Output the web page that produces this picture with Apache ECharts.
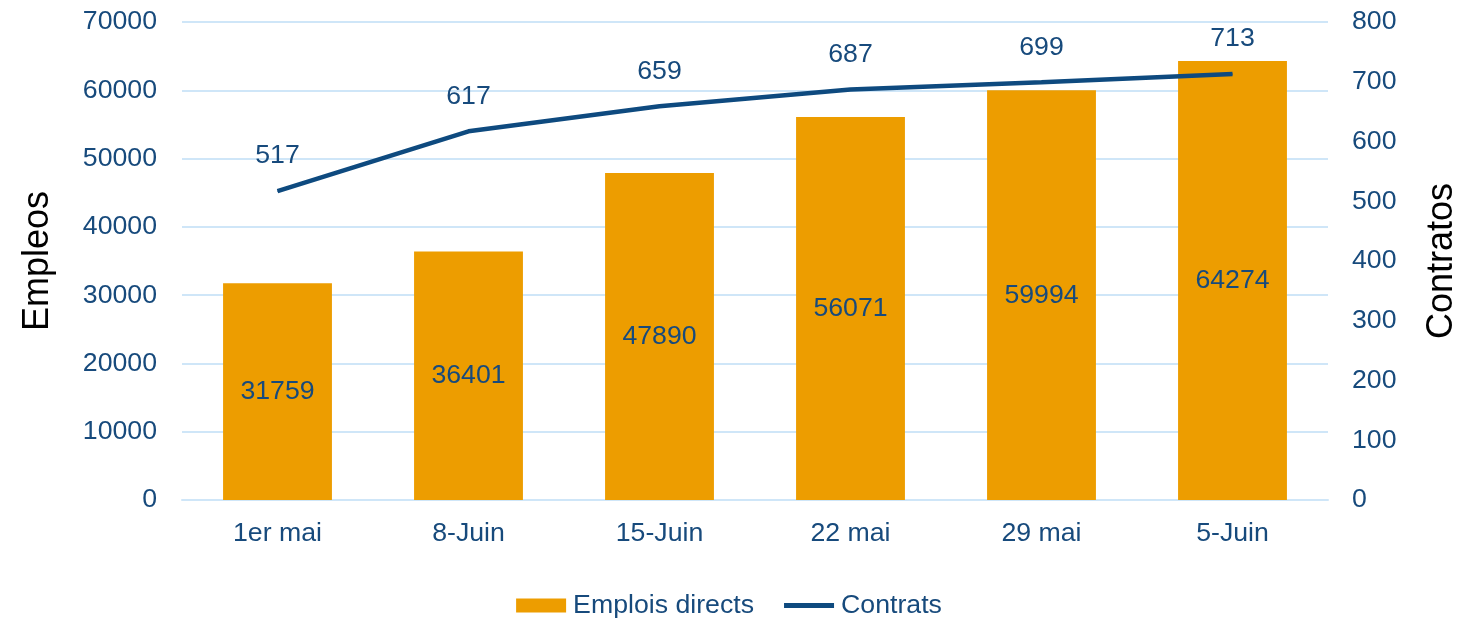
<!DOCTYPE html>
<html>
<head>
<meta charset="utf-8">
<script src="https://cdn.jsdelivr.net/npm/echarts@6/dist/echarts.min.js"></script>
<style>
html,body{margin:0;padding:0;background:#fff;}
#chart{width:1458px;height:619px;}
</style>
</head>
<body>
<div id="chart"></div>
<script>
const categories = ['1er mai', '8-Juin', '15-Juin', '22 mai', '29 mai', '5-Juin'];
const emplois = [31759, 36401, 47890, 56071, 59994, 64274];
const contrats = [517, 617, 659, 687, 699, 713];
const leftTicks = {min: 0, max: 70000, interval: 10000};
const rightTicks = {min: 0, max: 800, interval: 100};

const textColor = '#174a7c';
const lineColor = '#0e4a7f';
const gridColor = '#cfe6f8';
const font = 'Liberation Sans, Arial, sans-serif';

const chart = echarts.init(document.getElementById('chart'));
chart.setOption({
  animation: false,
  grid: {left: 182, right: 130, top: 22, bottom: 119, containLabel: false, outerBoundsMode: 'none'},
  legend: {
    bottom: -5,
    left: 'center',
    itemWidth: 50,
    itemHeight: 14,
    itemGap: 30,
    textStyle: {color: textColor, fontSize: 26.7, fontFamily: font, padding: [0, 0, 0, 2]},
    data: [
      {name: 'Emplois directs', icon: 'rect'},
      {name: 'Contrats', icon: 'path://M0,0H100V10H0Z', itemStyle: {color: lineColor}}
    ]
  },
  xAxis: {
    type: 'category',
    data: categories,
    axisLine: {lineStyle: {color: gridColor, width: 2}},
    axisTick: {show: false},
    axisLabel: {color: textColor, fontSize: 26.7, fontFamily: font, margin: 20}
  },
  yAxis: [
    {
      type: 'value',
      min: leftTicks.min, max: leftTicks.max, interval: leftTicks.interval,
      name: 'Empleos',
      nameLocation: 'middle',
      nameGap: 126,
      nameRotate: 90,
      nameTextStyle: {color: '#000', fontSize: 36, fontFamily: font},
      axisLine: {show: false},
      axisTick: {show: false},
      axisLabel: {color: textColor, fontSize: 26.7, fontFamily: font, margin: 25, formatter: v => String(v)},
      splitLine: {lineStyle: {color: gridColor, width: 2}}
    },
    {
      type: 'value',
      min: rightTicks.min, max: rightTicks.max, interval: rightTicks.interval,
      name: 'Contratos',
      nameLocation: 'middle',
      nameGap: 96,
      nameRotate: 90,
      nameTextStyle: {color: '#000', fontSize: 36, fontFamily: font},
      axisLine: {show: false},
      axisTick: {show: false},
      axisLabel: {color: textColor, fontSize: 26.7, fontFamily: font, margin: 24, align: 'left', formatter: v => String(v)},
      splitLine: {show: false}
    }
  ],
  series: [
    {
      name: 'Emplois directs',
      type: 'bar',
      yAxisIndex: 0,
      data: emplois,
      barWidth: '57%',
      itemStyle: {color: '#ED9D00'},
      label: {show: true, position: 'inside', color: textColor, fontSize: 26.7, fontFamily: font}
    },
    {
      name: 'Contrats',
      type: 'line',
      yAxisIndex: 1,
      data: contrats,
      symbol: 'circle',
      symbolSize: 1,
      showSymbol: true,
      lineStyle: {color: lineColor, width: 4.5},
      itemStyle: {color: lineColor},
      label: {show: true, position: 'top', distance: 21, color: textColor, fontSize: 26.7, fontFamily: font}
    }
  ]
});
</script>
</body>
</html>
